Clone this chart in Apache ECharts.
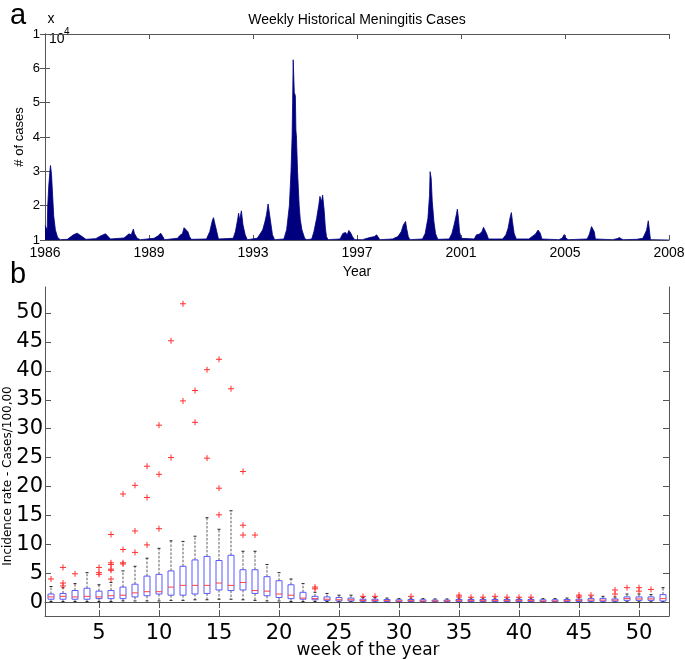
<!DOCTYPE html>
<html><head><meta charset="utf-8">
<script src="https://cdn.jsdelivr.net/npm/echarts@6/dist/echarts.min.js"></script>
<style>html,body{margin:0;padding:0;background:#fff}#c{width:685px;height:659px}</style>
</head><body><div id="c"></div>
<script>
// ---------- Panel a: weekly historical cases (x 10^4) ----------
const yearLabels = ['1986', '1989', '1993', '1997', '2001', '2005', '2008'];
const totalWeeks = 1144;
const caseTickLabels = ['1', '2', '3', '4', '5', '6', '1'];
const caseWeeks = [0,2,4,5,6,7,9,10,11,12,14,16,19,23,28,41,52,59,62,68,75,93,102,111,114,120,145,154,158,162,164,169,175,200,208,212,216,219,243,247,252,255,258,262,265,268,296,302,307,309,312,315,318,345,349,353,355,357,360,363,367,371,389,394,399,403,406,409,411,414,417,421,438,443,448,451,453,454,455,456,457,459,460,461,463,466,468,471,476,480,489,493,498,502,504,507,509,512,514,516,519,541,546,551,554,557,560,564,568,582,595,604,608,611,614,637,647,653,657,661,663,666,669,692,697,702,705,706,708,710,713,716,720,741,746,750,754,756,758,760,763,787,791,796,801,804,807,810,813,839,845,849,853,855,857,860,864,887,893,899,904,906,908,911,942,948,952,954,959,994,998,1002,1004,1007,1009,1040,1049,1053,1057,1061,1085,1096,1099,1103,1106,1107,1109,1110,1144];
const caseValues = [1.42,1.42,1.30,2.0,2.3,2.6,3.0,3.17,3.05,2.9,2.3,1.7,1.3,1.08,1.01,1.02,1.15,1.2,1.19,1.1,1.02,1.04,1.12,1.18,1.13,1.03,1.06,1.18,1.15,1.32,1.19,1.05,1.01,1.05,1.13,1.2,1.1,1.01,1.05,1.13,1.19,1.36,1.32,1.24,1.1,1.02,1.03,1.24,1.58,1.65,1.44,1.24,1.03,1.05,1.24,1.58,1.78,1.58,1.85,1.44,1.15,1.01,1.05,1.17,1.29,1.52,1.73,2.05,1.83,1.49,1.15,1.01,1.03,1.3,2.0,3.0,4.0,5.0,6.25,5.8,5.3,5.2,4.2,4.0,3.0,2.0,1.6,1.3,1.05,1.01,1.03,1.24,1.63,2.02,2.27,2.12,2.31,1.83,1.35,1.1,1.01,1.03,1.19,1.22,1.15,1.28,1.22,1.09,1.01,1.01,1.07,1.1,1.15,1.12,1.01,1.03,1.1,1.24,1.44,1.54,1.34,1.1,1.01,1.03,1.19,1.63,2.3,2.99,2.8,2.12,1.54,1.19,1.02,1.03,1.19,1.44,1.73,1.9,1.63,1.24,1.05,1.03,1.15,1.17,1.24,1.37,1.34,1.17,1.03,1.03,1.15,1.34,1.68,1.8,1.54,1.2,1.03,1.03,1.1,1.17,1.29,1.34,1.2,1.03,1.01,1.05,1.16,1.07,1.01,1.03,1.17,1.39,1.44,1.24,1.03,1.01,1.04,1.07,1.03,1.01,1.02,1.05,1.15,1.29,1.56,1.44,1.15,1.01,1.0];

// ---------- Panel b: incidence rate per week of year ----------
const weekTicks = [5, 10, 15, 20, 25, 30, 35, 40, 45, 50];
const rateTicks = [0, 5, 10, 15, 20, 25, 30, 35, 40, 45, 50];
const weeks = Array.from({length: 52}, (_, i) => i + 1);
const whiskerLow  = [0.1,0.1,0.1,0.1,0.1,0.1,0.2,0.2,0.2,0.2,0.3,0.3,0.4,0.4,0.5,0.5,0.4,0.3,0.2,0.2,0.1,0.1,0.1,0.1,0.1,0.1,0.05,0.05,0.05,0.05,0.05,0.05,0.05,0.05,0.05,0.05,0.05,0.05,0.05,0.05,0.05,0.05,0.05,0.05,0.05,0.05,0.05,0.05,0.05,0.05,0.05,0.1];
const quart1      = [0.5,0.5,0.5,0.5,0.6,0.6,0.6,0.9,1.1,1.4,1.2,1.2,1.4,1.5,2.1,2.0,2.1,1.5,1.1,0.8,0.6,0.5,0.4,0.3,0.2,0.2,0.15,0.15,0.1,0.1,0.1,0.1,0.1,0.1,0.1,0.1,0.1,0.1,0.1,0.1,0.1,0.1,0.1,0.1,0.12,0.15,0.15,0.15,0.3,0.3,0.3,0.2];
const medians     = [0.9,1.0,0.9,1.0,0.9,1.1,1.2,1.6,1.8,1.8,2.6,2.9,2.9,2.9,3.3,2.9,3.4,2.0,1.9,1.4,1.2,0.7,0.6,0.5,0.4,0.4,0.3,0.3,0.25,0.2,0.25,0.2,0.2,0.2,0.25,0.25,0.25,0.25,0.25,0.25,0.25,0.2,0.2,0.25,0.3,0.35,0.35,0.35,0.6,0.55,0.55,0.6];
const quart3      = [1.4,1.5,2.0,2.4,1.9,2.0,2.6,3.1,4.5,4.8,5.4,6.2,7.3,7.9,7.2,8.1,5.6,5.6,4.4,3.7,3.0,1.7,1.0,0.9,0.8,0.7,0.5,0.5,0.45,0.4,0.45,0.4,0.35,0.35,0.45,0.45,0.45,0.45,0.45,0.45,0.45,0.4,0.4,0.45,0.5,0.6,0.65,0.55,0.9,0.9,0.9,1.3];
const whiskerHigh = [2.7,2.5,3.2,5.1,3.0,3.4,5.4,6.2,7.6,9.3,10.6,10.5,11.4,14.6,12.6,15.8,8.8,8.8,6.5,5.1,4.0,3.2,1.7,1.5,1.2,1.2,0.8,0.8,0.7,0.6,0.7,0.6,0.55,0.55,0.7,0.7,0.7,0.7,0.7,0.7,0.7,0.6,0.6,0.7,0.8,0.9,1.0,0.9,1.4,1.4,1.3,2.5];
const outliers = [[4.0],[6.0,3.3,2.8],[4.9],[],[6.0,5.1,4.8],[11.7,6.8,6.5,5.7,5.5,4.0],[18.7,9.1,6.8,6.6],[20.2,12.3,8.6],[23.5,18.1,9.9],[30.6,22.1,12.7],[45.2,25.0],[51.6,34.8],[36.6,31.1],[40.2,24.9],[42.0,19.7,15.1],[36.9],[22.6,13.3,11.6],[11.6],[],[],[],[],[2.6,2.3],[],[],[],[1.0],[1.0],[],[],[1.0],[],[],[],[1.2,0.9],[0.85],[0.85],[1.0],[0.85],[0.85],[0.85],[],[],[],[1.2,0.9],[1.2],[],[2.1,1.4],[2.5],[2.5,1.9],[2.2],[]];

// ---------- build ----------
const fontA = "'Liberation Sans', Arial, Helvetica, sans-serif";
const fontB = "'DejaVu Sans', sans-serif";
const axisGray = '#555';
const yearTickValues = yearLabels.map((_, i) => i * totalWeeks / (yearLabels.length - 1));

const casePairs = caseWeeks.map((w, i) => [w, caseValues[i]]);
const boxData = weeks.map((w, i) => [w, whiskerLow[i], quart1[i], medians[i], quart3[i], whiskerHigh[i]]);
const outlierData = [];
outliers.forEach((list, i) => list.forEach(v => outlierData.push([weeks[i], v])));

const chart = echarts.init(document.getElementById('c'), null, {renderer: 'canvas'});

function frameAxis(extra) {
  return Object.assign({
    axisLine: {show: true, lineStyle: {color: axisGray, width: 1}},
    axisLabel: {show: false},
    splitLine: {show: false}
  }, extra);
}

const option = {
  animation: false,
  backgroundColor: '#fff',
  grid: [
    {left: 45, top: 34, width: 624, height: 206, containLabel: false, outerBoundsMode: 'none'},
    {left: 45, top: 287, width: 624, height: 329, containLabel: false, outerBoundsMode: 'none'}
  ],
  xAxis: [
    {
      gridIndex: 0, type: 'value', min: 0, max: totalWeeks, position: 'bottom',
      axisLine: {show: true, onZero: false, lineStyle: {color: axisGray}},
      axisTick: {show: true, inside: true, length: 5, lineStyle: {color: axisGray}, customValues: yearTickValues},
      axisLabel: {show: true, color: '#000', fontFamily: fontA, fontSize: 14, margin: 6,
        customValues: yearTickValues,
        formatter: v => yearLabels[Math.round(v / (totalWeeks / (yearLabels.length - 1)))]},
      splitLine: {show: false},
      name: 'Year', nameLocation: 'middle', nameGap: 25, nameMoveOverlap: false,
      nameTextStyle: {color: '#000', fontFamily: fontA, fontSize: 14}
    },
    frameAxis({gridIndex: 0, type: 'value', min: 0, max: totalWeeks, position: 'top',
      axisTick: {show: true, inside: true, length: 5, lineStyle: {color: axisGray}, customValues: yearTickValues}}),
    {
      gridIndex: 1, type: 'value', min: 0.5, max: 52.5, position: 'bottom',
      axisLine: {show: true, onZero: false, lineStyle: {color: axisGray}},
      axisTick: {show: true, inside: true, length: 6, lineStyle: {color: axisGray}, customValues: weekTicks},
      axisLabel: {show: true, color: '#000', fontFamily: fontB, fontSize: 21, margin: 7, customValues: weekTicks},
      splitLine: {show: false},
      name: 'week of the year', nameLocation: 'middle', nameGap: 26, nameMoveOverlap: false,
      nameTextStyle: {color: '#000', fontFamily: fontB, fontSize: 17, padding: [0, 0, 0, 22]}
    },
    frameAxis({gridIndex: 1, type: 'value', min: 0.5, max: 52.5, position: 'top',
      axisTick: {show: true, inside: true, length: 6, lineStyle: {color: axisGray}, customValues: weekTicks}})
  ],
  yAxis: [
    {
      gridIndex: 0, type: 'value', min: 1, max: 7, interval: 1, position: 'left',
      axisLine: {show: true, onZero: false, lineStyle: {color: axisGray}},
      axisTick: {show: true, inside: true, length: 5, lineStyle: {color: axisGray}},
      axisLabel: {show: true, color: '#000', fontFamily: fontA, fontSize: 13, margin: 5,
        formatter: v => caseTickLabels[Math.round(v) - 1]},
      splitLine: {show: false},
      name: '# of cases', nameLocation: 'middle', nameGap: 19, nameMoveOverlap: false,
      nameTextStyle: {color: '#000', fontFamily: fontA, fontSize: 13}
    },
    frameAxis({gridIndex: 0, type: 'value', min: 1, max: 7, interval: 1, position: 'right',
      axisTick: {show: true, inside: true, length: 5, lineStyle: {color: axisGray}}}),
    {
      gridIndex: 1, type: 'value', min: -2.4, max: 54.5, position: 'left',
      axisLine: {show: true, onZero: false, lineStyle: {color: axisGray}},
      axisTick: {show: true, inside: true, length: 6, lineStyle: {color: axisGray}, customValues: rateTicks},
      axisLabel: {show: true, color: '#000', fontFamily: fontB, fontSize: 21, margin: 2, customValues: rateTicks},
      splitLine: {show: false},
      name: 'Incidence rate - Cases/100,00', nameLocation: 'middle', nameGap: 31, nameMoveOverlap: false,
      nameTextStyle: {color: '#000', fontFamily: fontB, fontSize: 12, padding: [0, 49, 0, 0]}
    },
    frameAxis({gridIndex: 1, type: 'value', min: -2.4, max: 54.5, position: 'right',
      axisTick: {show: true, inside: true, length: 6, lineStyle: {color: axisGray}, customValues: rateTicks}})
  ],
  graphic: [
    {type: 'text', x: 357, y: 20, style: {text: 'Weekly Historical Meningitis Cases', fill: '#000', font: '14px ' + fontA, textAlign: 'center', textVerticalAlign: 'middle'}},
    {type: 'text', x: 18, y: 16, style: {text: 'a', fill: '#000', font: '29px ' + fontA, textAlign: 'center', textVerticalAlign: 'middle'}},
    {type: 'text', x: 18, y: 275, style: {text: 'b', fill: '#000', font: '29px ' + fontA, textAlign: 'center', textVerticalAlign: 'middle'}},
    {type: 'text', x: 51, y: 19.5, style: {text: 'x', fill: '#000', font: '14px ' + fontA, textAlign: 'center', textVerticalAlign: 'middle'}},
    {type: 'text', x: 49, y: 39, style: {text: '10', fill: '#000', font: '14px ' + fontA, textAlign: 'left', textVerticalAlign: 'middle'}},
    {type: 'text', x: 64, y: 32.5, style: {text: '4', fill: '#000', font: '10px ' + fontA, textAlign: 'left', textVerticalAlign: 'middle'}}
  ],
  series: [
    {
      type: 'line', xAxisIndex: 0, yAxisIndex: 0, data: casePairs,
      showSymbol: false, symbol: 'none',
      lineStyle: {color: '#00007f', width: 0.8},
      areaStyle: {color: '#00007f', opacity: 1, origin: 'start'}
    },
    {
      type: 'custom', xAxisIndex: 2, yAxisIndex: 2, data: boxData, clip: false,
      renderItem: function (params, api) {
        const w = api.value(0);
        const pLo = api.coord([w, api.value(1)]);
        const pQ1 = api.coord([w, api.value(2)]);
        const pMd = api.coord([w, api.value(3)]);
        const pQ3 = api.coord([w, api.value(4)]);
        const pHi = api.coord([w, api.value(5)]);
        const half = api.size([0.5, 0])[0] / 2;
        const cap = api.size([0.25, 0])[0] / 2;
        const x = pMd[0];
        const dash = {stroke: '#333', lineWidth: 0.8, lineDash: [2.5, 1.5]};
        const capS = {stroke: '#222', lineWidth: 1};
        return {type: 'group', children: [
          {type: 'line', shape: {x1: x, y1: pQ3[1], x2: x, y2: pHi[1]}, style: dash},
          {type: 'line', shape: {x1: x, y1: pQ1[1], x2: x, y2: pLo[1]}, style: dash},
          {type: 'line', shape: {x1: x - cap, y1: pHi[1], x2: x + cap, y2: pHi[1]}, style: capS},
          {type: 'line', shape: {x1: x - cap, y1: pLo[1], x2: x + cap, y2: pLo[1]}, style: capS},
          {type: 'rect', shape: {x: x - half, y: pQ3[1], width: 2 * half, height: pQ1[1] - pQ3[1]},
            style: {fill: 'none', stroke: '#5a5aff', lineWidth: 1}},
          {type: 'line', shape: {x1: x - half, y1: pMd[1], x2: x + half, y2: pMd[1]},
            style: {stroke: '#ff4040', lineWidth: 1}}
        ]};
      }
    },
    {
      type: 'custom', xAxisIndex: 2, yAxisIndex: 2, data: outlierData, clip: false,
      renderItem: function (params, api) {
        const p = api.coord([api.value(0), api.value(1)]);
        const s = {stroke: '#ff3030', lineWidth: 1};
        return {type: 'group', children: [
          {type: 'line', shape: {x1: p[0] - 3, y1: p[1], x2: p[0] + 3, y2: p[1]}, style: s},
          {type: 'line', shape: {x1: p[0], y1: p[1] - 3, x2: p[0], y2: p[1] + 3}, style: s}
        ]};
      }
    }
  ]
};
chart.setOption(option);
</script>
</body></html>
